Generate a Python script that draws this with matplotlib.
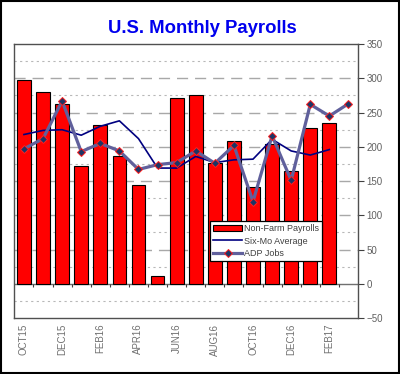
import matplotlib
matplotlib.use("Agg")
import matplotlib.pyplot as plt
import numpy as np
from matplotlib.patches import Rectangle
from matplotlib.lines import Line2D
from matplotlib.patches import Patch

plt.rcParams['font.family'] = ['Liberation Sans', 'DejaVu Sans']

months = ["OCT15", "NOV15", "DEC15", "JAN16", "FEB16", "MAR16", "APR16", "MAY16",
          "JUN16", "JUL16", "AUG16", "SEP16", "OCT16", "NOV16", "DEC16", "JAN17",
          "FEB17", "MAR17"]
payrolls = [298, 280, 262, 172, 232, 186, 144, 11, 271, 275, 177, 208, 142, 204, 165, 227, 235, np.nan]
six_mo_avg = [218, 224, 225, 217, 230, 238, 212, 169, 169, 186, 177, 181, 182, 211, 194, 188, 196, np.nan]
adp_jobs = [197, 212, 267, 193, 205, 194, 167, 174, 177, 194, 176, 202, 120, 216, 151, 262, 245, 263]
tick_labels = ["OCT15", "DEC15", "FEB16", "APR16", "JUN16", "AUG16", "OCT16", "DEC16", "FEB17"]
y_ticks = [-50, 0, 50, 100, 150, 200, 250, 300, 350]

fig = plt.figure(figsize=(4.0, 3.74), dpi=100)
ax = fig.add_axes([0.036, 0.1497, 0.859, 0.7323])

x = np.arange(len(months))
ax.bar(x, payrolls, width=0.72, color='#ff0000', edgecolor='black', linewidth=0.8, zorder=3,
       label='Non-Farm Payrolls')
ax.plot(x, six_mo_avg, color='#000080', lw=1.2, zorder=4, label='Six-Mo Average')
ax.plot(x, adp_jobs, color='#60609c', lw=2.3, marker='D', markersize=4.5,
        markerfacecolor='#1c3566', markeredgecolor='#ff2020', markeredgewidth=0.7,
        zorder=5, label='ADP Jobs')

ax.set_xlim(-0.5, 17.5)
ax.set_ylim(-50, 350)

# grid
for v in range(-25, 350, 25):
    if v == 0:
        continue
    if v % 50 == 0:
        ax.axhline(v, color='#a8a8a8', lw=1.0, dashes=(8, 5), zorder=1)
    else:
        ax.axhline(v, color='#b8b8b8', lw=0.8, dashes=(2, 3), zorder=1)
ax.axhline(0, color='#707070', lw=1.0, zorder=2)
ax.vlines(np.arange(0.5, 17, 1.0), -4.5, 0, color='#404040', lw=0.8, zorder=2)

ax.yaxis.tick_right()
ax.set_yticks(y_ticks)
ax.tick_params(axis='y', which='major', direction='out', length=4, width=0.8,
               color='#404040', labelsize=7, labelcolor='#606060', pad=2)
ax.set_xticks(x[0:17:2])
ax.set_xticklabels(tick_labels, rotation=90, fontsize=7, color='#707070')
ax.tick_params(axis='x', length=0, pad=4)

for s in ax.spines.values():
    s.set_color('#505050')
    s.set_linewidth(1.0)

fig.text(0.505, 0.925, 'U.S. Monthly Payrolls', color='#0000ee', fontsize=13.3,
         fontweight='bold', ha='center', va='center')

handles = [Patch(facecolor='#ff0000', edgecolor='black', linewidth=0.8),
           Line2D([], [], color='#000080', lw=1.2),
           Line2D([], [], color='#60609c', lw=2.3, marker='D', markersize=4.5,
                  markerfacecolor='#1c3566', markeredgecolor='#ff2020', markeredgewidth=0.7)]
leg = ax.legend(handles, ['Non-Farm Payrolls', 'Six-Mo Average', 'ADP Jobs'],
                loc='upper left', bbox_to_anchor=(0.569, 0.355), fontsize=6.5,
                frameon=True, fancybox=False, framealpha=1, edgecolor='black',
                borderpad=0.35, labelspacing=0.4, handlelength=3.2, handletextpad=0.2,
                borderaxespad=0)
leg.get_frame().set_linewidth(0.9)
for t in leg.get_texts():
    t.set_color('#404040')
leg.set_zorder(10)

fig.add_artist(Rectangle((0.002, 0.003), 0.995, 0.994, transform=fig.transFigure,
                         fill=False, edgecolor='black', lw=1.5))

fig.savefig('out.png', dpi=100)
